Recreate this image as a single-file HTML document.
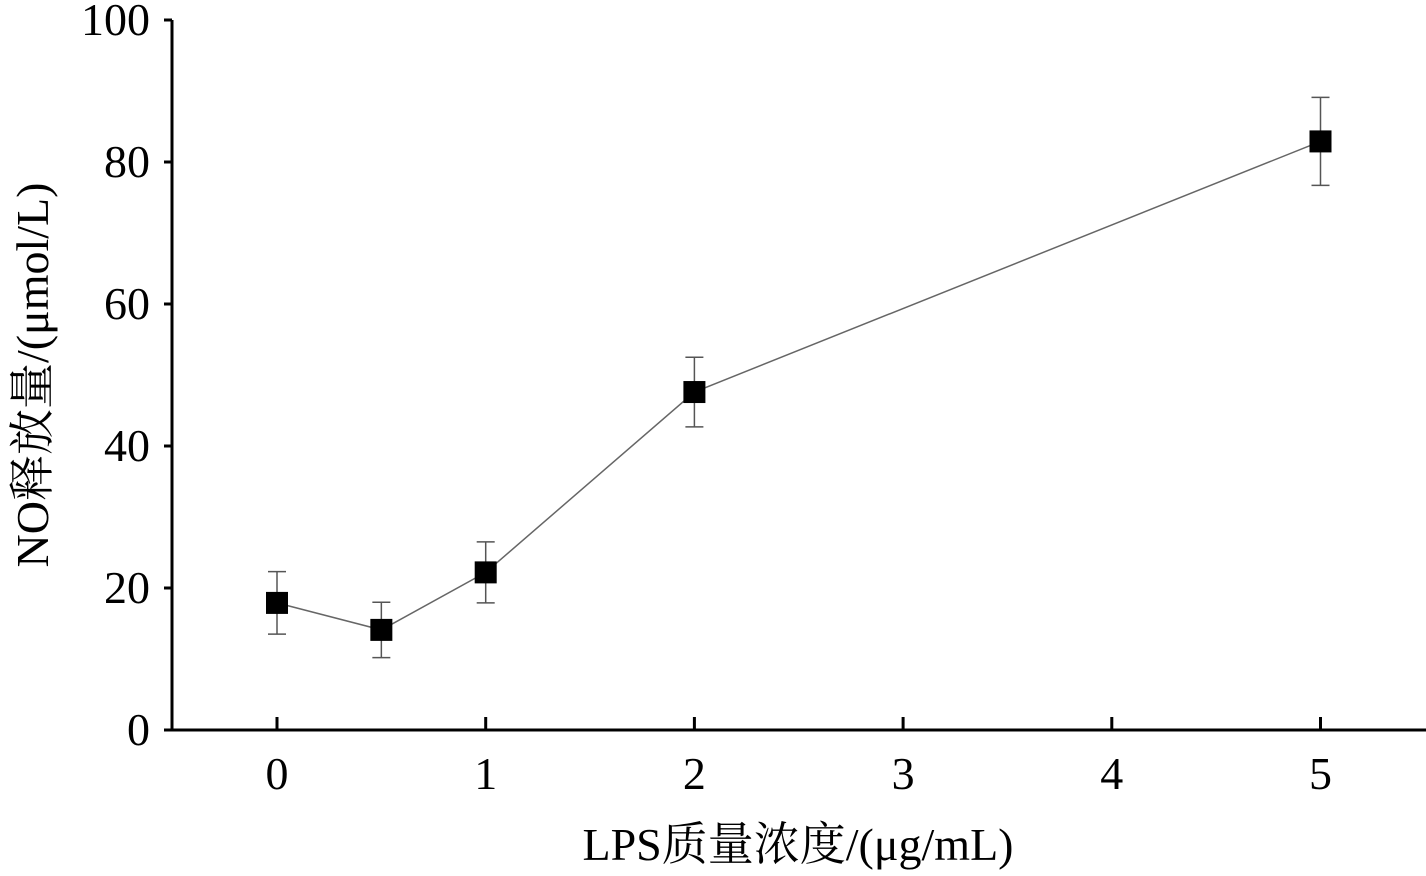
<!DOCTYPE html>
<html><head><meta charset="utf-8"><style>
html,body{margin:0;padding:0;background:#fff;}
svg text{font-family:"Liberation Serif","Noto Serif CJK SC",serif;fill:#000;}
</style></head><body>
<svg id="chart" width="1426" height="871" viewBox="0 0 1426 871" xmlns="http://www.w3.org/2000/svg">
<line x1="172" y1="20" x2="172" y2="730" stroke="#000" stroke-width="3"/>
<line x1="172" y1="730" x2="1426" y2="730" stroke="#000" stroke-width="3"/>
<g id="yticks"></g>
<g id="xticks"></g>
<g id="series"></g>
<text x="798" y="860" font-size="46" text-anchor="middle">LPS质量浓度/(μg/mL)</text>
<text x="0" y="0" font-size="46" text-anchor="middle" transform="translate(48,375) rotate(-90)">NO释放量/(μmol/L)</text>
</svg>
<script>
const xValues = [0, 0.5, 1, 2, 5];
const yValues = [17.9, 14.1, 22.2, 47.6, 82.9];
const yErrors = [4.4, 3.9, 4.3, 4.9, 6.2];
const xTickLabels = [0, 1, 2, 3, 4, 5];
const yTickLabels = [0, 20, 40, 60, 80, 100];

const NS = "http://www.w3.org/2000/svg";
function xs(v){ return 277 + v * 208.7; }
function ys(v){ return 730 - v * 7.1; }
function mk(tag, attrs, parent){
  const e = document.createElementNS(NS, tag);
  for (const k in attrs) e.setAttribute(k, attrs[k]);
  parent.appendChild(e);
  return e;
}
const yt = document.getElementById('yticks');
yTickLabels.forEach(v => {
  const l = mk('line', {x1:164, x2:172, y1:ys(v), y2:ys(v), stroke:'#000', 'stroke-width':3}, yt);
  
  
  const t = mk('text', {x:150, y:ys(v)+15, 'font-size':46, 'text-anchor':'end'}, yt);
  t.textContent = v;
  
  
});
const xt = document.getElementById('xticks');
xTickLabels.forEach(v => {
  const l = mk('line', {x1:xs(v), x2:xs(v), y1:717, y2:730, stroke:'#000', 'stroke-width':3}, xt);
  
  
  const t = mk('text', {x:xs(v), y:789, 'font-size':46, 'text-anchor':'middle'}, xt);
  t.textContent = v;
  
  
});
const s = document.getElementById('series');
const pts = xValues.map((x,i) => xs(x) + ',' + ys(yValues[i])).join(' ');
const line = mk('polyline', {points:pts, fill:'none', stroke:'#666', 'stroke-width':1.5}, s);


xValues.forEach((x,i) => {
  const cx = xs(x), hi = ys(yValues[i] + yErrors[i]), lo = ys(yValues[i] - yErrors[i]);
  const g = mk('g', {stroke:'#555', 'stroke-width':1.5}, s);
  
  
  mk('line', {x1:cx, x2:cx, y1:hi, y2:lo}, g);
  mk('line', {x1:cx-9, x2:cx+9, y1:hi, y2:hi}, g);
  mk('line', {x1:cx-9, x2:cx+9, y1:lo, y2:lo}, g);
  const r = mk('rect', {x:cx-11, y:ys(yValues[i])-11, width:22, height:22, fill:'#000'}, s);
  
  
});
</script>
</body></html>
